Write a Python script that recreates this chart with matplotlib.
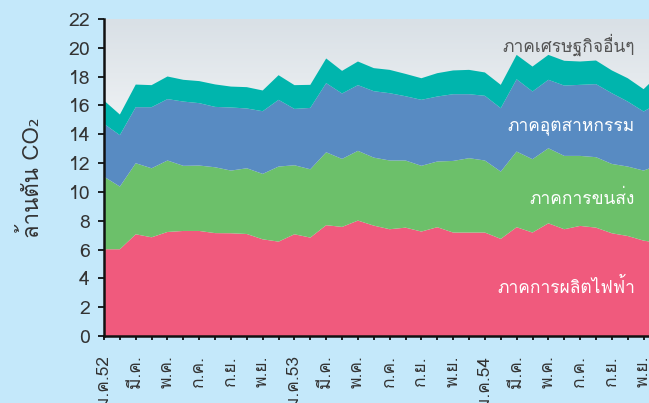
#!/usr/bin/env python3
"""Thai CO2 emissions by sector, monthly stacked area, 2552-2554."""
import matplotlib
matplotlib.use("Agg")
import matplotlib.pyplot as plt
import numpy as np
from matplotlib import font_manager
from matplotlib.colors import LinearSegmentedColormap
from matplotlib.ft2font import FT2Font

MONTH_LABELS = ["ม.ค.52", "มี.ค.", "พ.ค.", "ก.ค.", "ก.ย.", "พ.ย.",
                "ม.ค.53", "มี.ค.", "พ.ค.", "ก.ค.", "ก.ย.", "พ.ย.",
                "ม.ค.54", "มี.ค.", "พ.ค.", "ก.ค.", "ก.ย.", "พ.ย."]

# million tonnes CO2 per month, Jan 2552 .. Dec 2554
power = [6.02, 6.02, 7.06, 6.85, 7.22, 7.29, 7.29, 7.14, 7.13, 7.08, 6.71, 6.55,
         7.06, 6.83, 7.69, 7.57, 8.01, 7.66, 7.41, 7.52, 7.25, 7.55, 7.18, 7.18,
         7.18, 6.74, 7.55, 7.18, 7.82, 7.41, 7.64, 7.52, 7.13, 6.94, 6.62, 6.45]
transport = [5.04, 4.35, 4.93, 4.79, 4.96, 4.52, 4.54, 4.57, 4.35, 4.56, 4.54, 5.21,
             4.79, 4.74, 5.06, 4.72, 4.84, 4.72, 4.77, 4.66, 4.56, 4.56, 4.97, 5.16,
             5.00, 4.67, 5.25, 5.09, 5.21, 5.09, 4.86, 4.89, 4.81, 4.82, 4.86, 5.45]
industry = [3.66, 3.57, 3.89, 4.24, 4.26, 4.46, 4.33, 4.19, 4.38, 4.15, 4.35, 4.63,
            3.91, 4.26, 4.80, 4.54, 4.56, 4.61, 4.67, 4.46, 4.58, 4.51, 4.63, 4.44,
            4.49, 4.40, 5.02, 4.70, 4.75, 4.88, 4.93, 5.07, 4.91, 4.51, 4.10, 4.30]
other = [1.62, 1.43, 1.57, 1.53, 1.57, 1.51, 1.53, 1.56, 1.45, 1.48, 1.44, 1.71,
         1.65, 1.60, 1.71, 1.57, 1.64, 1.60, 1.62, 1.55, 1.50, 1.62, 1.65, 1.69,
         1.62, 1.62, 1.69, 1.73, 1.73, 1.72, 1.62, 1.64, 1.58, 1.62, 1.55, 2.00]

SECTORS = ["ภาคการผลิตไฟฟ้า", "ภาคการขนส่ง", "ภาคอุตสาหกรรม", "ภาคเศรษฐกิจอื่นๆ"]
COLORS = ["#F05A7D", "#6CC06A", "#588BC2", "#00B5AD"]
LABEL_Y = [3.35, 9.5, 14.45, 20.2]
LABEL_COLORS = ["white", "white", "white", "#555555"]


def thai_family():
    # first installed font that has Thai glyphs
    for f in font_manager.fontManager.ttflist:
        try:
            if 0x0E01 in FT2Font(f.fname).get_charmap():
                return f.name
        except Exception:
            continue
    return "DejaVu Sans"


def main():
    plt.rcParams["font.family"] = [thai_family(), "DejaVu Sans"]

    fig = plt.figure(figsize=(6.49, 4.03), dpi=100, facecolor="#C4E8FA")
    ax = fig.add_axes([104 / 649, 67 / 403, 545 / 649, 317 / 403])

    x = np.arange(len(power))
    right = 34.34

    grad = LinearSegmentedColormap.from_list("bg", ["#FFFFFF", "#FAFBFB", "#D9E0E6"])
    ax.imshow(np.linspace(0, 1, 200).reshape(-1, 1), cmap=grad, origin="lower",
              aspect="auto", extent=[0, right, 0, 22], zorder=0)

    ax.stackplot(x, power, transport, industry, other, colors=COLORS,
                 linewidth=0, zorder=1)

    for name, yv, col in zip(SECTORS, LABEL_Y, LABEL_COLORS):
        ax.text(33.45, yv, name, ha="right", va="center", color=col,
                fontsize=12.5, zorder=3)

    ax.set_xlim(0, right)
    ax.set_ylim(0, 22)
    ax.set_yticks(range(0, 23, 2))
    ax.set_xticks(range(0, 35), minor=True)
    ax.set_xticks(range(0, 35, 2))
    ax.set_xticklabels(MONTH_LABELS, rotation=90, fontsize=12.5, color="#333333")
    ax.tick_params(axis="y", labelsize=14, labelcolor="#333333", length=4,
                   width=1.2, pad=6)
    ax.tick_params(axis="x", which="both", length=3, width=1.2, pad=11)
    for s in ["top", "right"]:
        ax.spines[s].set_visible(False)
    for s in ["left", "bottom"]:
        ax.spines[s].set_linewidth(1.8)
        ax.spines[s].set_color("#111111")
        ax.spines[s].set_zorder(4)

    fig.text(0.05, 0.56, "ล้านตัน CO₂", rotation=90, ha="center", va="center",
             fontsize=16, color="#333333")

    fig.savefig("out.png", dpi=100, facecolor=fig.get_facecolor())


if __name__ == "__main__":
    main()
